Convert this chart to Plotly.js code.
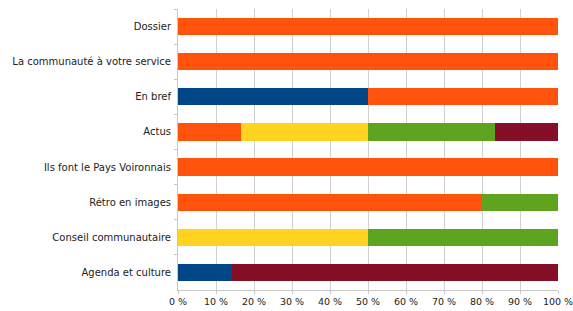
<!DOCTYPE html>
<html>
<head>
<meta charset="utf-8">
<script src="https://cdn.plot.ly/plotly-3.0.1.min.js"></script>
<style>html,body{margin:0;padding:0;background:#fff;}#chart{width:573px;height:311px;}</style>
</head>
<body>
<div id="chart"></div>
<script>
const categories = ["Dossier", "La communauté à votre service", "En bref", "Actus", "Ils font le Pays Voironnais", "Rétro en images", "Conseil communautaire", "Agenda et culture"];
const seriesBlue   = [0, 0, 50, 0, 0, 0, 0, 14.3];
const seriesOrange = [100, 100, 50, 16.7, 100, 80, 0, 0];
const seriesYellow = [0, 0, 0, 33.3, 0, 0, 50, 0];
const seriesGreen  = [0, 0, 0, 33.3, 0, 20, 50, 0];
const seriesRed    = [0, 0, 0, 16.7, 0, 0, 0, 85.7];
const tickValues = [0, 10, 20, 30, 40, 50, 60, 70, 80, 90, 100];
const tickLabels = ["0 %", "10 %", "20 %", "30 %", "40 %", "50 %", "60 %", "70 %", "80 %", "90 %", "100 %"];

const colors = ["#004586", "#ff530d", "#ffd320", "#5ea41e", "#860f28"];
const series = [seriesBlue, seriesOrange, seriesYellow, seriesGreen, seriesRed];
const traces = series.map((vals, i) => ({
  type: "bar",
  orientation: "h",
  y: categories,
  x: vals,
  marker: {color: colors[i], line: {width: 0}},
  showlegend: false,
  hoverinfo: "skip"
}));

const layout = {
  width: 573, height: 311,
  margin: {l: 178, r: 15, t: 9, b: 21, pad: 0},
  barmode: "stack",
  bargap: 0.51,
  paper_bgcolor: "#fff",
  plot_bgcolor: "#fff",
  font: {family: "DejaVu Sans, sans-serif", size: 9.5, color: "#222"},
  xaxis: {
    range: [0, 100],
    tickvals: tickValues,
    ticktext: tickLabels,
    ticklabeloverflow: "allow",
    tickfont: {size: 9.5},
    showgrid: true,
    gridcolor: "#d0d0d0",
    gridwidth: 1,
    zeroline: false,
    showline: true,
    linecolor: "#c8c8c8",
    ticks: "outside",
    ticklen: 3,
    tickcolor: "#c8c8c8",
    mirror: false,
    fixedrange: true
  },
  yaxis: {
    type: "category",
    autorange: "reversed",
    tickfont: {size: 10},
    showgrid: false,
    zeroline: false,
    showline: true,
    linecolor: "#c8c8c8",
    ticks: "outside",
    ticklen: 3,
    tickcolor: "#c8c8c8",
    tickson: "boundaries",
    ticklabelstandoff: 4,
    fixedrange: true
  }
};

Plotly.newPlot("chart", traces, layout, {staticPlot: true, displayModeBar: false});
</script>
</body>
</html>
